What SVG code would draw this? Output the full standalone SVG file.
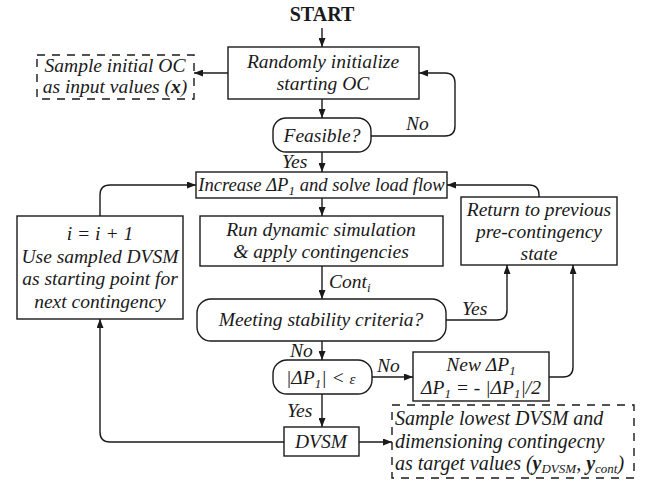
<svg xmlns="http://www.w3.org/2000/svg" width="646" height="481" viewBox="0 0 646 481">
<defs>
<marker id="ah" markerUnits="userSpaceOnUse" markerWidth="9" markerHeight="7" refX="9" refY="3.5" orient="auto">
<path d="M0,0 L9,3.5 L0,7 z" fill="#1a1a1a"/>
</marker>
<style>
.box{fill:#fff;stroke:#1a1a1a;stroke-width:1.4}
.dash{fill:#fff;stroke:#1a1a1a;stroke-width:1.4;stroke-dasharray:8 7}
.c{fill:none;stroke:#1a1a1a;stroke-width:1.4;marker-end:url(#ah)}
text{font-family:"Liberation Serif","DejaVu Serif",serif;font-style:italic;font-size:19.5px;fill:#1a1a1a}
.m{text-anchor:middle}
.st{font-style:normal;font-weight:bold;font-size:20px}
.sb{font-size:13px}
.b{font-weight:bold}
.l{font-size:20px}
</style>
</defs>
<rect width="646" height="481" fill="#fff"/>
<g id="start"><text class="m st" x="322" y="21">START</text></g>
<g id="init"><rect class="box" x="228" y="47" width="191" height="52"/>
<text class="m" x="323" y="68">Randomly initialize</text>
<text class="m" x="323" y="90">starting OC</text></g>
<g id="sample-x"><rect class="dash" x="37" y="55" width="157" height="44"/>
<text class="m" x="115" y="72">Sample initial OC</text>
<text class="m" x="115" y="93">as input values (<tspan class="b">x</tspan>)</text></g>
<g id="feasible"><rect class="box" x="273" y="118" width="98" height="34" rx="13"/>
<text class="m" x="322" y="142">Feasible?</text></g>
<g id="increase"><rect class="box" x="196" y="172" width="251" height="26"/>
<text class="m" x="321.5" y="191" style="font-size:18.6px">Increase ΔP<tspan class="sb" dy="4">1</tspan><tspan dy="-4"> and solve load flow</tspan></text></g>
<g id="run"><rect class="box" x="200" y="216" width="243" height="50"/>
<text class="m" x="321" y="236">Run dynamic simulation</text>
<text class="m" x="321" y="258">&amp; apply contingencies</text></g>
<g id="return"><rect class="box" x="461" y="197" width="156" height="68"/>
<text class="m" x="539" y="216">Return to previous</text>
<text class="m" x="539" y="238">pre-contingency</text>
<text class="m" x="539" y="260">state</text></g>
<g id="next"><rect class="box" x="17" y="216" width="166" height="103"/>
<text class="m" x="100" y="240">i = i + 1</text>
<text class="m" x="100" y="263">Use sampled DVSM</text>
<text class="m" x="100" y="285">as starting point for</text>
<text class="m" x="100" y="308">next contingency</text></g>
<g id="meeting"><rect class="box" x="197" y="299" width="249" height="42" rx="14"/>
<text class="m" x="321" y="326">Meeting stability criteria?</text></g>
<g id="check"><rect class="box" x="273" y="360" width="99" height="34" rx="14"/>
<text x="286" y="384">|ΔP<tspan class="sb" dy="4">1</tspan><tspan dy="-4">| &lt; </tspan><tspan style="font-size:15px">ε</tspan></text></g>
<g id="new"><rect class="box" x="413" y="352" width="136" height="49"/>
<text class="m" x="481" y="371">New ΔP<tspan class="sb" dy="4">1</tspan></text>
<text class="m" x="481" y="394">ΔP<tspan class="sb" dy="4">1</tspan><tspan dy="-4"> = - |ΔP</tspan><tspan class="sb" dy="4">1</tspan><tspan dy="-4">|/2</tspan></text></g>
<g id="dvsm"><rect class="box" x="284" y="427" width="75" height="29"/>
<text class="m" x="321" y="448">DVSM</text></g>
<g id="sample-y"><rect class="dash" x="392" y="405" width="242" height="73"/>
<text class="l" x="395" y="425">Sample lowest DVSM and</text>
<text class="l" x="395" y="448">dimensioning contingecny</text>
<text class="l" x="395" y="470">as target values (<tspan class="b">y</tspan><tspan class="sb" dy="3">DVSM</tspan><tspan dy="-3">, </tspan><tspan class="b">y</tspan><tspan class="sb" dy="3">cont</tspan><tspan dy="-3">)</tspan></text></g>
<g id="connectors">
<path class="c" d="M322 28 V47"/>
<path class="c" d="M228 73 H194"/>
<path class="c" d="M322 99 V118"/>
<path class="c" d="M371 136 H445 Q455 136 455 126 V83 Q455 73 445 73 H419"/>
<path class="c" d="M322 152 V172"/>
<path class="c" d="M322 198 V216"/>
<path class="c" d="M322 266 V299"/>
<path class="c" d="M446 320 H497 Q507 320 507 310 V265"/>
<path class="c" d="M539 197 V195 Q539 185 529 185 H447"/>
<path class="c" d="M322 341 V360"/>
<path class="c" d="M372 377 H413"/>
<path class="c" d="M549 377 H563 Q573 377 573 367 V265"/>
<path class="c" d="M322 394 V427"/>
<path class="c" d="M359 442 H392"/>
<path class="c" d="M284 442 H110 Q100 442 100 432 V319"/>
<path class="c" d="M100 216 V195 Q100 185 110 185 H196"/>
</g>
<g id="labels">
<text x="406" y="130">No</text>
<text x="282" y="168">Yes</text>
<text x="329" y="288">Cont<tspan class="sb" dy="4">i</tspan></text>
<text x="462" y="315">Yes</text>
<text x="290" y="357">No</text>
<text x="377" y="372">No</text>
<text x="287" y="417">Yes</text>
</g>
</svg>
